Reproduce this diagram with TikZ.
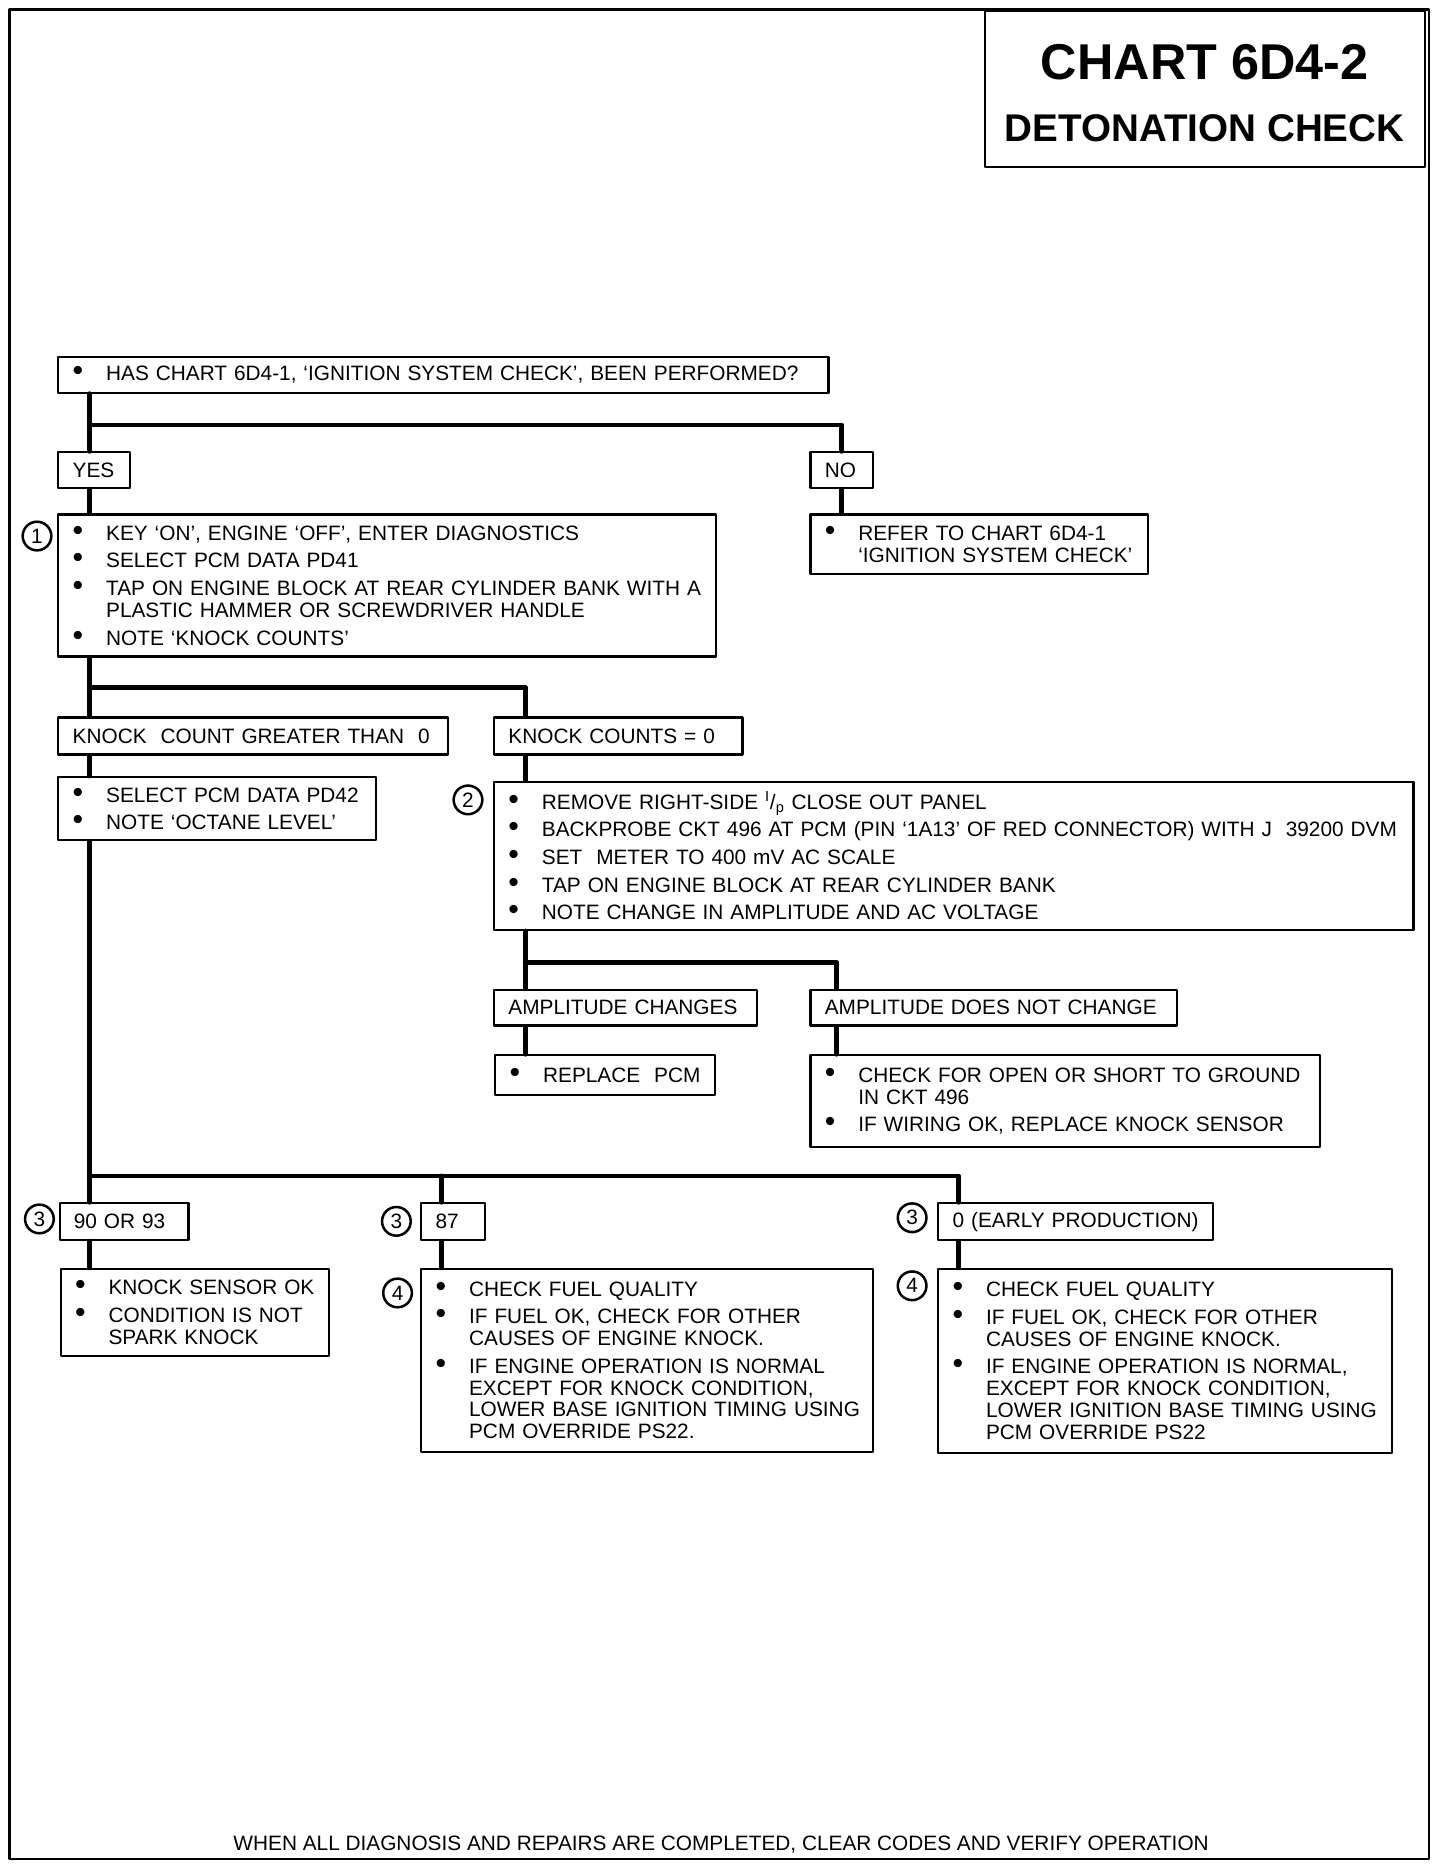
\documentclass[tikz,border=0pt]{standalone}
\usepackage{fontspec}
\setmainfont{Liberation Sans}
\newcommand\bodyfont{\fontsize{12.4}{13}\selectfont}
\newcommand\bul{{\fontsize{18}{13}\selectfont\textbullet}}
\newcommand\itm[1]{\makebox[7mm][l]{\bul}\mbox{#1}}
\newcommand\cnt[1]{\hspace*{7mm}\mbox{#1}}
\begin{document}
\begin{tikzpicture}[x=0.25mm, y=-0.25mm, line join=round, line cap=round, font=\bodyfont,
    bx/.style 2 args={draw, line width=1.3pt, anchor=north west, inner xsep=3mm, inner ysep=0pt,
      align=left, text width=#1*0.25mm-6mm, minimum height=#2*0.25mm},
    num/.style={draw, circle, line width=1.5pt, minimum size=6mm, inner sep=0pt},
    link/.style={line width=2.9pt}]
    \def\gp{3.5pt} % extra space between two items
    \useasboundingbox (0,0) rectangle (1206,1563);
    \draw[line width=1.3pt] (8,8) rectangle (1197,1557);
    % title
    \node[draw, line width=1.3pt, anchor=north west, minimum width=369*0.25mm, minimum height=131*0.25mm] (title) at (824,8) {};
    \node[font=\fontsize{30}{30}\selectfont\bfseries] (t1) at (1009,52) {CHART 6D4-2};
    \node[font=\fontsize{23}{23}\selectfont\bfseries] (t2) at (1009,107) {DETONATION CHECK};
    % boxes
    \node[bx={645}{30}] (q) at (48,298) {\itm{HAS CHART 6D4-1, `IGNITION SYSTEM CHECK', BEEN PERFORMED?}};
    \node[bx={60}{30}] (yes) at (48,378) {YES};
    \node[bx={52}{30}] (no) at (678,378) {NO};
    \node[bx={283}{50}] (refer) at (678,430) {\itm{REFER TO CHART 6D4-1}\\
      \cnt{`IGNITION SYSTEM CHECK'}};
    \node[bx={551}{119}] (s1) at (48,430) {\itm{KEY `ON', ENGINE `OFF', ENTER DIAGNOSTICS}\\[\gp]
      \itm{SELECT PCM DATA PD41}\\[\gp]
      \itm{TAP ON ENGINE BLOCK AT REAR CYLINDER BANK WITH A}\\
      \cnt{PLASTIC HAMMER OR SCREWDRIVER HANDLE}\\[\gp]
      \itm{NOTE `KNOCK COUNTS'}};
    \node[bx={326}{31}] (gt) at (48,600) {\mbox{KNOCK\ \ COUNT GREATER THAN\ \ 0}};
    \node[bx={208}{31}] (eq) at (413,600) {\mbox{KNOCK COUNTS = 0}};
    \node[bx={266}{53}] (sel) at (48,650) {\itm{SELECT PCM DATA PD42}\\[\gp]
      \itm{NOTE `OCTANE LEVEL'}};
    \node[bx={770}{124}] (s2) at (413,654) {\itm{REMOVE RIGHT-SIDE \textsuperscript{I}/\textsubscript{p} CLOSE OUT PANEL}\\[\gp]
      \itm{BACKPROBE CKT 496 AT PCM (PIN `1A13' OF RED CONNECTOR) WITH J\ \ 39200 DVM}\\[\gp]
      \itm{SET\ \ METER TO 400 mV AC SCALE}\\[\gp]
      \itm{TAP ON ENGINE BLOCK AT REAR CYLINDER BANK}\\[\gp]
      \itm{NOTE CHANGE IN AMPLITUDE AND AC VOLTAGE}};
    \node[bx={220}{30}] (ac) at (413,828) {\mbox{AMPLITUDE CHANGES}};
    \node[bx={307}{30}] (anc) at (678,828) {\mbox{AMPLITUDE DOES NOT CHANGE}};
    \node[bx={184}{33}] (rp) at (414,883) {\itm{REPLACE\ \ PCM}};
    \node[bx={427}{77}] (ck) at (678,883) {\itm{CHECK FOR OPEN OR SHORT TO GROUND}\\
      \cnt{IN CKT 496}\\[\gp]
      \itm{IF WIRING OK, REPLACE KNOCK SENSOR}};
    \node[bx={108}{31}] (o90) at (49,1007) {\mbox{90 OR 93}};
    \node[bx={53}{31}] (o87) at (352,1007) {87};
    \node[bx={230}{31}] (o0) at (785,1007) {\mbox{0 (EARLY PRODUCTION)}};
    \node[bx={225}{73}] (ok) at (50,1062) {\itm{KNOCK SENSOR OK}\\[\gp]
      \itm{CONDITION IS NOT}\\
      \cnt{SPARK KNOCK}};
    \node[bx={378}{153}] (f87) at (352,1062) {\itm{CHECK FUEL QUALITY}\\[\gp]
      \itm{IF FUEL OK, CHECK FOR OTHER}\\
      \cnt{CAUSES OF ENGINE KNOCK.}\\[\gp]
      \itm{IF ENGINE OPERATION IS NORMAL}\\
      \cnt{EXCEPT FOR KNOCK CONDITION,}\\
      \cnt{LOWER BASE IGNITION TIMING USING}\\
      \cnt{PCM OVERRIDE PS22.}};
    \node[bx={380}{154}] (f0) at (785,1062) {\itm{CHECK FUEL QUALITY}\\[\gp]
      \itm{IF FUEL OK, CHECK FOR OTHER}\\
      \cnt{CAUSES OF ENGINE KNOCK.}\\[\gp]
      \itm{IF ENGINE OPERATION IS NORMAL,}\\
      \cnt{EXCEPT FOR KNOCK CONDITION,}\\
      \cnt{LOWER IGNITION BASE TIMING USING}\\
      \cnt{PCM OVERRIDE PS22}};
    % step numbers
    \node[num] (n1) at (31,449) {1};
    \node[num] (n2) at (392,670) {2};
    \node[num] (n3a) at (33,1021) {3};
    \node[num] (n3b) at (332,1023) {3};
    \node[num] (n3c) at (764,1020) {3};
    \node[num] (n4a) at (333,1083) {4};
    \node[num] (n4b) at (764,1077) {4};
    \node (foot) at (604,1545) {WHEN ALL DIAGNOSIS AND REPAIRS ARE COMPLETED, CLEAR CODES AND VERIFY OPERATION};
    % connectors
    \coordinate (j1) at (75,356);
    \coordinate (j2) at (75,576);
    \coordinate (j2r) at (440,576);
    \coordinate (j3) at (440,806);
    \coordinate (j3r) at (701,806);
    \coordinate (j4) at (75,985);
    \coordinate (j4m) at (370,985);
    \coordinate (j4r) at (803,985);
    \draw[link] (q.south -| j1) -- (yes.north -| j1);
    \draw[link] (j1) -| (no.north);
    \draw[link] (yes.south -| j1) -- (s1.north -| j1);
    \draw[link] (no.south) -- (refer.north -| no.south);
    \draw[link] (s1.south -| j2) -- (gt.north -| j2);
    \draw[link] (j2) -- (j2r) -- (eq.north -| j2r);
    \draw[link] (gt.south -| j2) -- (sel.north -| j2);
    \draw[link] (sel.south -| j2) -- (j4) -- (j4r) -- (o0.north -| j4r);
    \draw[link] (j4) -- (o90.north -| j4);
    \draw[link] (j4m) -- (o87.north -| j4m);
    \draw[link] (eq.south -| j2r) -- (s2.north -| j2r);
    \draw[link] (s2.south -| j3) -- (ac.north -| j3);
    \draw[link] (j3) -- (j3r) -- (anc.north -| j3r);
    \draw[link] (ac.south -| j3) -- (rp.north -| j3);
    \draw[link] (anc.south -| j3r) -- (ck.north -| j3r);
    \draw[link] (o90.south -| j4) -- (ok.north -| j4);
    \draw[link] (o87.south -| j4m) -- (f87.north -| j4m);
    \draw[link] (o0.south -| j4r) -- (f0.north -| j4r);
\end{tikzpicture}
\end{document}
